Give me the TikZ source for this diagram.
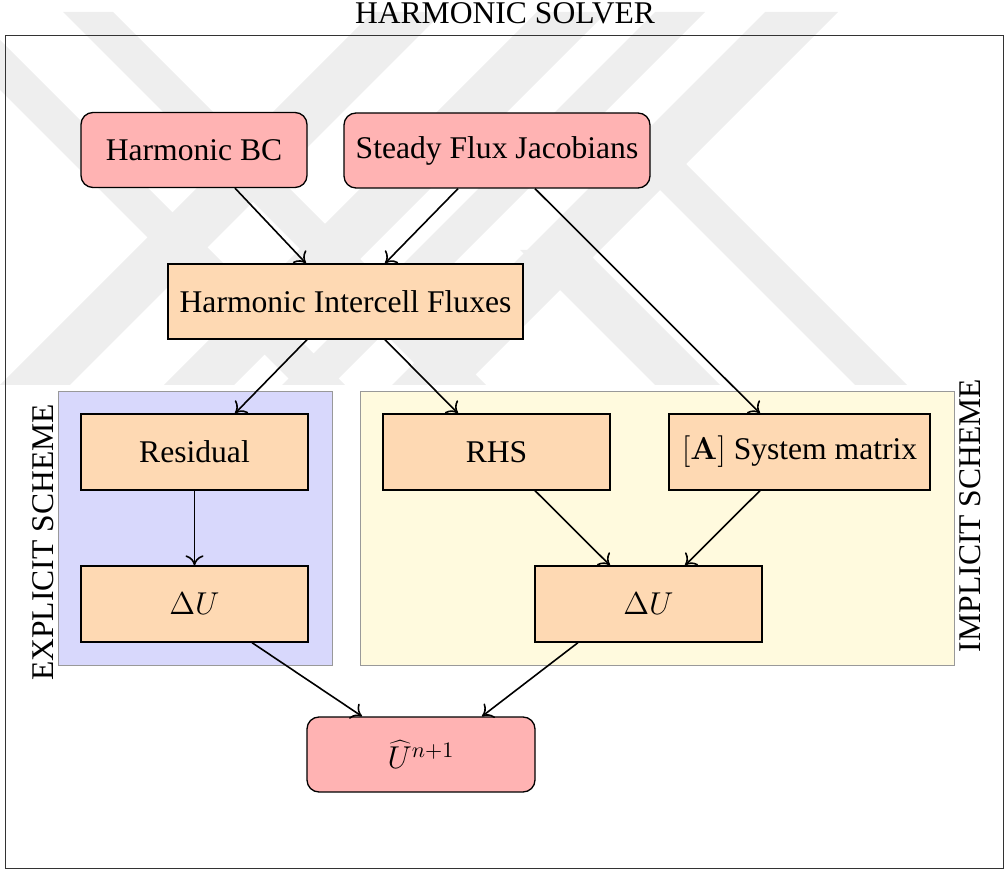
\RequirePackage{fix-cm}
\documentclass[tikz,border=0pt]{standalone}
\usepackage[no-math]{fontspec}
\setmainfont{Liberation Serif}
\usetikzlibrary{calc,arrows.meta}
\definecolor{pinkfill}{RGB}{255,179,179}
\definecolor{orfill}{RGB}{254,217,179}
\definecolor{bluereg}{RGB}{216,216,252}
\definecolor{yelreg}{RGB}{255,250,222}
\definecolor{wmark}{RGB}{238,238,238}
\newcommand{\fsz}{\fontsize{15.8pt}{19pt}\selectfont}
\begin{document}
\begin{tikzpicture}[x=0.5pt,y=-0.5pt,
  box/.style={draw, line width=0.65pt, inner sep=0pt, minimum height=37.5pt, align=center, font=\fsz},
  rbox/.style={box, rounded corners=6pt, fill=pinkfill},
  obox/.style={box, fill=orfill},
  region/.style={draw=black!40, line width=0.5pt},
  lab/.style={font=\fsz, inner sep=0pt},
  arr/.style={-{Computer Modern Rightarrow[length=5pt,width=9pt]}, line width=0.8pt}]
\useasboundingbox (0,0) rectangle (1005,870);
% faint watermark bands
\begin{scope}
\clip (0,12) rectangle (965,385);
\fill[wmark] (-78,12) -- (-28,12) -- (345,385) -- (295,385) -- cycle;
\fill[wmark] (373,12) -- (443,12) -- (70,385) -- (0,385) -- cycle;
\fill[wmark] (63,12) -- (113,12) -- (486,385) -- (436,385) -- cycle;
\fill[wmark] (537,12) -- (607,12) -- (234,385) -- (164,385) -- cycle;
\fill[wmark] (655,12) -- (705,12) -- (332,385) -- (282,385) -- cycle;
\fill[wmark] (765,12) -- (838,12) -- (465,385) -- (392,385) -- cycle;
\fill[wmark] (520,250) -- (585,250) -- (720,385) -- (655,385) -- cycle;
\fill[wmark] (633,163) -- (685,163) -- (907,385) -- (855,385) -- cycle;
\end{scope}
% title and frame
\node[lab, anchor=base] (title) at (505,24) {HARMONIC SOLVER};
\draw[line width=0.5pt, draw=black!80] (5,36) rectangle (1003,868);
% scheme regions
\draw[region, fill=bluereg] (58,392) rectangle (332,665);
\draw[region, fill=yelreg] (360,392) rectangle (954,665);
\node[lab, rotate=90, anchor=base] (expl) at (53,542.5) {EXPLICIT SCHEME};
\node[lab, rotate=90, anchor=base] (impl) at (980,515.5) {IMPLICIT SCHEME};
% nodes
\node[rbox, minimum width=113pt] (hbc) at (194,150) {Harmonic BC};
\node[rbox, minimum width=153pt] (sfj) at (497,150.5) {Steady Flux Jacobians};
\node[obox, minimum width=177.5pt] (hif) at (345.5,301.5) {Harmonic Intercell Fluxes};
\node[obox, minimum width=113.5pt, minimum height=38pt] (res) at (194.5,452) {Residual};
\node[obox, minimum width=113.5pt, minimum height=38pt] (dul) at (194.5,604) {$\Delta U$};
\node[obox, minimum width=113.5pt, minimum height=38pt] (rhs) at (496.5,452) {RHS};
\node[obox, minimum width=130.5pt, minimum height=38pt] (sys) at (799.5,452) {$[\mathbf{A}]$ System matrix};
\node[obox, minimum width=113.5pt, minimum height=38pt] (dur) at (648.5,604) {$\Delta U$};
\node[rbox, minimum width=114pt] (unew) at (421,754.5) {$\widehat{U}^{n+1}$};
% connectors
\draw[arr] ($(hbc.south)+(41,0)$) -- ($(hif.north)+(-39.5,0)$);
\draw[arr] ($(sfj.south)+(-39,0)$) -- ($(hif.north)+(39.5,0)$);
\draw[arr] ($(sfj.south)+(38,0)$) -- ($(sys.north)+(-39.5,0)$);
\draw[arr] ($(hif.south)+(-38.5,0)$) -- ($(res.north)+(40.5,0)$);
\draw[arr] ($(hif.south)+(39.5,0)$) -- ($(rhs.north)+(-38.5,0)$);
\draw[arr] (res.south) -- (dul.north);
\draw[arr] ($(rhs.south)+(38.5,0)$) -- ($(dur.north)+(-38.5,0)$);
\draw[arr] ($(sys.south)+(-39.5,0)$) -- ($(dur.north)+(36.5,0)$);
\draw[arr] ($(dul.south)+(57.5,0)$) -- ($(unew.north)+(-59,0)$);
\draw[arr] ($(dur.south)+(-70.5,0)$) -- ($(unew.north)+(61,0)$);
\end{tikzpicture}
\end{document}
